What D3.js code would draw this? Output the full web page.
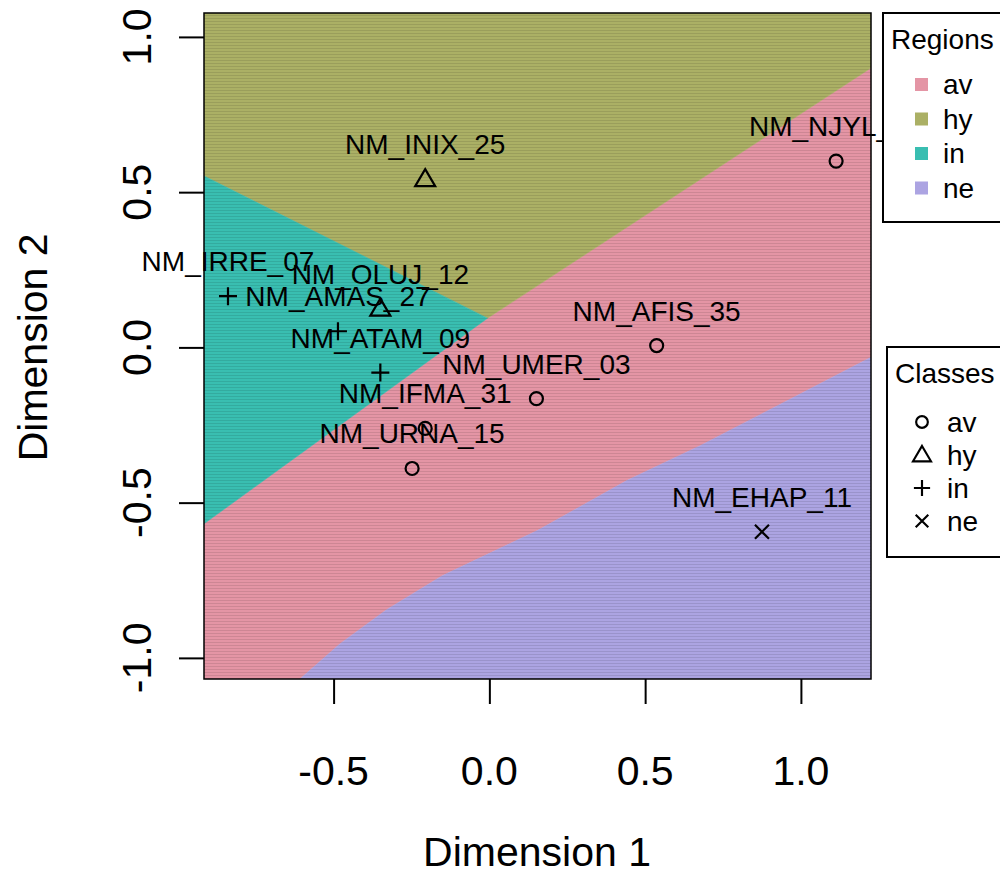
<!DOCTYPE html>
<html>
<head>
<meta charset="utf-8">
<script src="https://cdn.jsdelivr.net/npm/d3@7"></script>
<style>
  body { margin: 0; background: #fff; }
  text { font-family: "Liberation Sans", Arial, sans-serif; fill: #000; }
</style>
</head>
<body>
<div id="chart"></div>
<script>
// points
var pointNames = ["NM_NJYL_10", "NM_INIX_25", "NM_IRRE_07", "NM_OLUJ_12", "NM_AMAS_27", "NM_ATAM_09",
                  "NM_AFIS_35", "NM_UMER_03", "NM_IFMA_31", "NM_URNA_15", "NM_EHAP_11"];
var dim1 = [1.113, -0.206, -0.839, -0.350, -0.486, -0.350, 0.537, 0.151, -0.206, -0.248, 0.875];
var dim2 = [0.600, 0.542, 0.165, 0.125, 0.052, -0.081, 0.006, -0.165, -0.261, -0.390, -0.594];
var pointClass = ["av", "hy", "in", "hy", "in", "in", "av", "av", "av", "av", "ne"];

var classes = ["av", "hy", "in", "ne"];
var classColors = ["#E495A5", "#ABB065", "#39BEB1", "#ACA4E2"];

// decision region edges, in data units
var plotX = [-0.916, 1.225];
var plotY = [-1.068, 1.077];
var hyInEdge = [[-0.916, 0.552], [-0.006, 0.094]];
var hyAvEdge = [[-0.006, 0.094], [1.225, 0.900]];
var inAvEdge = [[-0.006, 0.094], [-0.916, -0.568]];
var avNeEdge = [[-0.608, -1.068], [-0.480, -0.955], [-0.330, -0.845], [-0.150, -0.735], [0.154, -0.590],
                [0.441, -0.429], [0.678, -0.316], [1.225, -0.032]];

var xTicks = [-0.5, 0.0, 0.5, 1.0];
var yTicks = [-1.0, -0.5, 0.0, 0.5, 1.0];

var W = 1000, H = 875;
var box = { left: 204, right: 871, top: 13, bottom: 679 };

var svg = d3.select("#chart").append("svg")
    .attr("width", W).attr("height", H);

var xScale = d3.scaleLinear().domain(plotX).range([box.left, box.right]);
var yScale = d3.scaleLinear().domain(plotY).range([box.bottom, box.top]);

var defs = svg.append("defs");
defs.append("clipPath").attr("id", "plotclip")
  .append("rect")
    .attr("x", box.left).attr("y", box.top)
    .attr("width", box.right - box.left).attr("height", box.bottom - box.top);
var pat = defs.append("pattern").attr("id", "stripes")
    .attr("patternUnits", "userSpaceOnUse").attr("width", 6).attr("height", 3);
pat.append("rect").attr("x", 0).attr("y", 0).attr("width", 6).attr("height", 1)
    .attr("fill", "rgba(0,0,0,0.1)");

// build region polygons from the edges
var x0 = plotX[0], x1 = plotX[1], y0 = plotY[0], y1 = plotY[1];
var regions = {
  hy: [[x0, y1], [x1, y1]].concat(hyAvEdge.slice().reverse(), [hyInEdge[0]]),
  in: hyInEdge.concat([inAvEdge[1]]),
  av: hyAvEdge.concat(avNeEdge.slice().reverse(), [[x0, y0]], [inAvEdge[1]]),
  ne: avNeEdge.concat([[x1, y0]])
};

var line = d3.line()
    .x(function(d) { return xScale(d[0]); })
    .y(function(d) { return yScale(d[1]); });

var plot = svg.append("g").attr("clip-path", "url(#plotclip)");
plot.selectAll("path.region")
  .data(classes)
  .enter().append("path")
    .attr("class", "region")
    .attr("d", function(c) { return line(regions[c]) + "Z"; })
    .attr("fill", function(c, i) { return classColors[i]; })
    .attr("stroke", function(c, i) { return classColors[i]; })
    .attr("stroke-width", 0.6);
plot.append("rect")
    .attr("x", box.left).attr("y", box.top)
    .attr("width", box.right - box.left).attr("height", box.bottom - box.top)
    .attr("fill", "url(#stripes)");

svg.append("rect")
    .attr("x", box.left).attr("y", box.top)
    .attr("width", box.right - box.left).attr("height", box.bottom - box.top)
    .attr("fill", "none").attr("stroke", "#000").attr("stroke-width", 1.5);

// axes
var xAxis = svg.append("g")
    .attr("transform", "translate(0," + box.bottom + ")")
    .call(d3.axisBottom(xScale).tickValues(xTicks).tickSize(25).tickSizeOuter(0).tickFormat(""));
var yAxis = svg.append("g")
    .attr("transform", "translate(" + box.left + ",0)")
    .call(d3.axisLeft(yScale).tickValues(yTicks).tickSize(25).tickSizeOuter(0).tickFormat(""));
svg.selectAll(".domain").remove();
svg.selectAll(".tick line").attr("stroke", "#000").attr("stroke-width", 2);

svg.selectAll("text.xtick")
  .data(xTicks)
  .enter().append("text")
    .attr("class", "xtick")
    .attr("x", function(d) { return xScale(d); })
    .attr("y", 785)
    .attr("text-anchor", "middle")
    .style("font-size", "41px")
    .text(function(d) { return d.toFixed(1); });

svg.selectAll("text.ytick")
  .data(yTicks)
  .enter().append("text")
    .attr("class", "ytick")
    .attr("transform", function(d) { return "translate(151," + yScale(d) + ") rotate(-90)"; })
    .attr("text-anchor", "middle")
    .style("font-size", "41px")
    .text(function(d) { return d.toFixed(1); });

svg.append("text")
    .attr("x", 537).attr("y", 866)
    .attr("text-anchor", "middle")
    .style("font-size", "41px")
    .text("Dimension 1");
svg.append("text")
    .attr("transform", "translate(47," + yScale(0) + ") rotate(-90)")
    .attr("text-anchor", "middle")
    .style("font-size", "41px")
    .text("Dimension 2");

// markers
function markerPath(c) {
  if (c === "av") return "M6.5,0A6.5,6.5 0 1,1 -6.5,0A6.5,6.5 0 1,1 6.5,0Z";
  if (c === "hy") return "M0,-10L10,7L-10,7Z";
  if (c === "in") return "M-9,0L9,0M0,-9L0,9";
  return "M-7,-7L7,7M-7,7L7,-7";
}

var pts = svg.append("g");
pts.selectAll("path")
  .data(pointNames)
  .enter().append("path")
    .attr("transform", function(d, i) { return "translate(" + xScale(dim1[i]) + "," + yScale(dim2[i]) + ")"; })
    .attr("d", function(d, i) { return markerPath(pointClass[i]); })
    .attr("fill", "none")
    .attr("stroke", "#000")
    .attr("stroke-width", 2.2);

pts.selectAll("text")
  .data(pointNames)
  .enter().append("text")
    .attr("x", function(d, i) { return xScale(dim1[i]); })
    .attr("y", function(d, i) { return yScale(dim2[i]) - 25; })
    .attr("text-anchor", "middle")
    .style("font-size", "28px")
    .text(function(d) { return d; });

// legends
function legendBox(x, y, h, title) {
  var g = svg.append("g");
  g.append("rect")
      .attr("x", x).attr("y", y).attr("width", 140).attr("height", h)
      .attr("fill", "#fff").attr("stroke", "#000").attr("stroke-width", 2);
  g.append("text")
      .attr("x", x + 8).attr("y", y + 36)
      .style("font-size", "28px")
      .text(title);
  return g;
}

var regLeg = legendBox(883, 13, 209, "Regions");
regLeg.selectAll("rect.key")
  .data(classes)
  .enter().append("rect")
    .attr("class", "key")
    .attr("x", 915).attr("y", function(d, i) { return 78 + i * 34.5; })
    .attr("width", 13).attr("height", 13)
    .attr("fill", function(d, i) { return classColors[i]; });
regLeg.selectAll("text.lab")
  .data(classes)
  .enter().append("text")
    .attr("class", "lab")
    .attr("x", 943).attr("y", function(d, i) { return 94 + i * 34.5; })
    .style("font-size", "28px")
    .text(function(d) { return d; });

var clsLeg = legendBox(887, 347, 210, "Classes");
clsLeg.selectAll("path")
  .data(classes)
  .enter().append("path")
    .attr("transform", function(d, i) { return "translate(922," + (422 + i * 33) + ") scale(0.9)"; })
    .attr("d", function(d) { return markerPath(d); })
    .attr("fill", "none").attr("stroke", "#000").attr("stroke-width", 2.4);
clsLeg.selectAll("text.lab")
  .data(classes)
  .enter().append("text")
    .attr("class", "lab")
    .attr("x", 947).attr("y", function(d, i) { return 432 + i * 33; })
    .style("font-size", "28px")
    .text(function(d) { return d; });
</script>
</body>
</html>
